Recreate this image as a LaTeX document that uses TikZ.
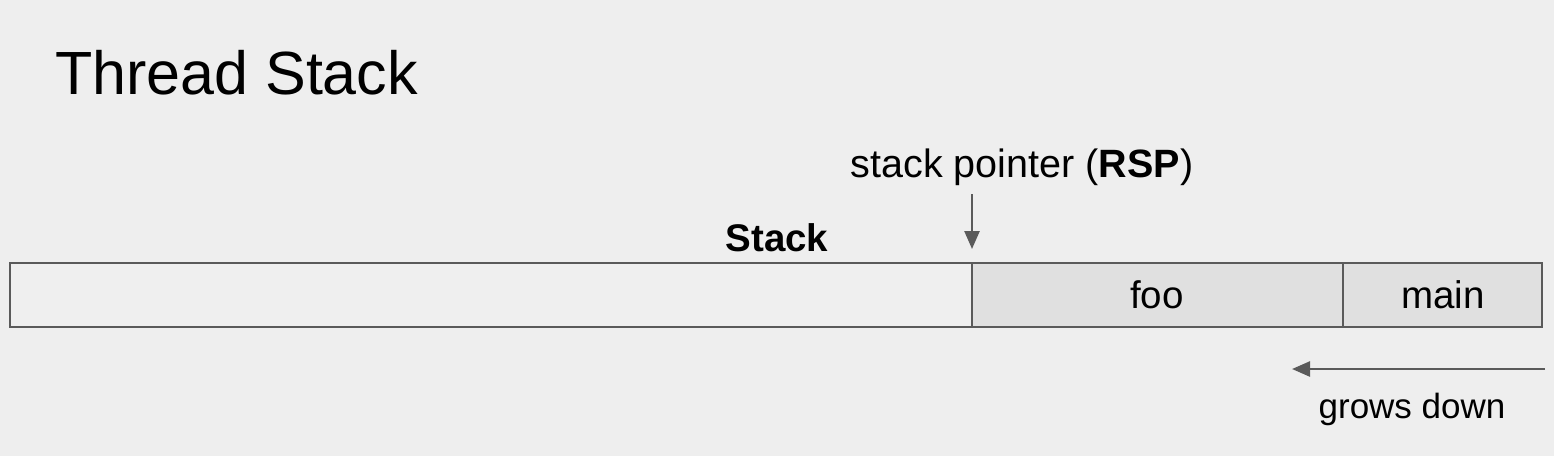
\documentclass[tikz,border=0pt]{standalone}
\usepackage{fontspec}
\setmainfont{Liberation Sans}
\usetikzlibrary{arrows.meta}
\definecolor{bg}{HTML}{EEEEEE}
\definecolor{freecol}{HTML}{EFEFEF}
\definecolor{usedcol}{HTML}{E0E0E0}
\definecolor{edge}{HTML}{5A5A5A}
\definecolor{arrcol}{HTML}{5A5A5A}
\begin{document}
\begin{tikzpicture}[x=1pt,y=-1pt,
  seg/.style={draw=edge, line width=2.2pt, anchor=north west, minimum height=64pt, inner sep=0pt, outer sep=0pt},
  lbl/.style={font=\fontsize{38.5}{44}\selectfont, text=black, inner sep=0pt},
  arr/.style={draw=arrcol, line width=2.5pt, -{Triangle[length=18pt,width=15pt]}}]
\fill[bg] (0,0) rectangle (1554,456);
\useasboundingbox (0,0) rectangle (1554,456);
\node[anchor=base west, inner sep=0pt, font=\fontsize{61}{70}\selectfont] (title) at (55,94) {Thread Stack};
\node[seg, fill=freecol, minimum width=962pt] (free) at (10,263) {};
\node[seg, fill=usedcol, minimum width=371pt] (foo) at (972,263) {};
\node[seg, fill=usedcol, minimum width=199pt] (main) at (1343,263) {};
\node[lbl, anchor=base] (foolbl) at (1157,308) {foo};
\node[lbl, anchor=base] (mainlbl) at (1443,308) {main};
\node[lbl, anchor=base, font=\fontsize{38.5}{44}\selectfont\bfseries] (stacklbl) at (777,251) {Stack};
\node[lbl, anchor=base, font=\fontsize{39.5}{44}\selectfont] (sp) at (1022,177) {stack pointer (\textbf{RSP})};
\coordinate (spstart) at (972,194);
\coordinate (sptip) at (972,249);
\draw[arr] (spstart) -- (sptip);
\coordinate (gstart) at (1545,369);
\coordinate (gtip) at (1292,369);
\draw[arr] (gstart) -- (gtip);
\node[lbl, anchor=base, font=\fontsize{35}{44}\selectfont] (grows) at (1412,418) {grows down};
\end{tikzpicture}
\end{document}
